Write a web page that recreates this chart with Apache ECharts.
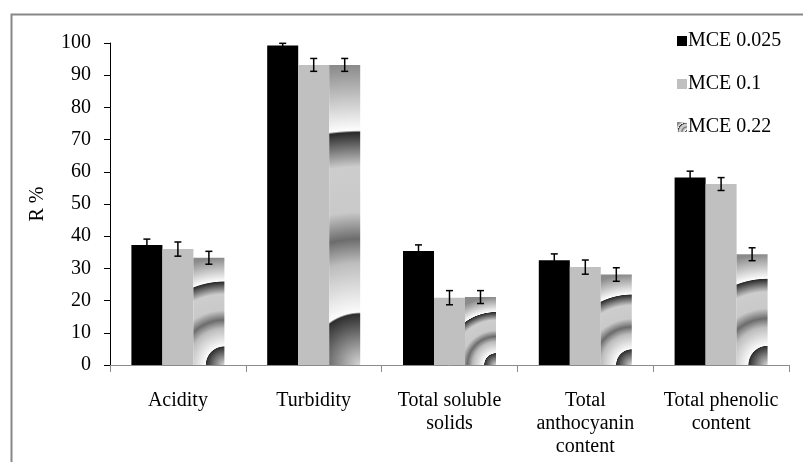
<!DOCTYPE html>
<html>
<head>
<meta charset="utf-8">
<script src="https://cdn.jsdelivr.net/npm/echarts@6/dist/echarts.min.js"></script>
<style>
  html, body { margin: 0; padding: 0; background: #fff; }
  #chart { width: 803px; height: 462px; }
</style>
</head>
<body>
<div id="chart"></div>
<script>
// categories and series values (R %)
const categories = ['Acidity', 'Turbidity', 'Total soluble\nsolids', 'Total\nanthocyanin\ncontent', 'Total phenolic\ncontent'];
const seriesNames = ['MCE 0.025', 'MCE 0.1', 'MCE 0.22'];
const mce025 = [37.3, 99.2, 35.4, 32.5, 58.2];
const mce01 = [36.0, 93.2, 20.9, 30.4, 56.2];
const mce022 = [33.3, 93.2, 21.1, 28.1, 34.4];
// error bar half-widths
const err025 = [1.8, 0.7, 1.9, 2.0, 2.0];
const err01 = [2.2, 2.0, 2.2, 2.2, 2.0];
const err022 = [2.0, 2.0, 2.0, 2.1, 2.0];
const yTicks = [0, 10, 20, 30, 40, 50, 60, 70, 80, 90, 100];

const FONT = "'Liberation Serif', 'Times New Roman', serif";
const BAR_W = 31;
const PX_PER_UNIT = 3.22; // approx plot height / 100

// ring texture, offsets are fractions of bar height from the bottom-right corner
const ringStops = [
  { offset: 0, color: '#d6d6d6' },
  { offset: 0.17, color: '#2e2e2e' },
  { offset: 0.176, color: '#fbfbfb' },
  { offset: 0.34, color: '#bdbdbd' },
  { offset: 0.42, color: '#6c6c6c' },
  { offset: 0.51, color: '#c9c9c9' },
  { offset: 0.66, color: '#cdcdcd' },
  { offset: 0.775, color: '#2a2a2a' },
  { offset: 0.782, color: '#fdfdfd' },
  { offset: 1, color: '#8a8a8a' }
];

function ringFill(r) {
  return new echarts.graphic.RadialGradient(1, 1, r, ringStops);
}

function errorSeries(name, vals, errs, k) {
  return {
    name: name + ' err',
    type: 'custom',
    z: 10,
    silent: true,
    data: vals.map((v, i) => [i, v, errs[i]]),
    encode: { x: 0, y: 1 },
    renderItem: function (params, api) {
      const idx = api.value(0);
      const v = api.value(1);
      const e = api.value(2);
      const hi = api.coord([idx, v + e]);
      const lo = api.coord([idx, v - e]);
      const x = hi[0] + (k - 1) * BAR_W;
      const cap = 3.5;
      const style = { stroke: '#000', lineWidth: 1.5 };
      return {
        type: 'group',
        children: [
          { type: 'line', shape: { x1: x, y1: hi[1], x2: x, y2: lo[1] }, style: style },
          { type: 'line', shape: { x1: x - cap, y1: hi[1], x2: x + cap, y2: hi[1] }, style: style },
          { type: 'line', shape: { x1: x - cap, y1: lo[1], x2: x + cap, y2: lo[1] }, style: style }
        ]
      };
    }
  };
}

const chart = echarts.init(document.getElementById('chart'));

const option = {
  animation: false,
  backgroundColor: '#fff',
  graphic: [{
    type: 'rect',
    left: 9, top: 12,
    shape: { width: 900, height: 600 },
    style: { fill: 'none', stroke: '#878787', lineWidth: 2 },
    silent: true
  }],
  grid: { left: 110, right: 14, top: 43, bottom: 97 },
  legend: {
    data: seriesNames,
    orient: 'vertical',
    left: 677,
    top: 31,
    padding: 0,
    itemWidth: 10,
    itemHeight: 10,
    itemGap: 23,
    icon: 'rect',
    textStyle: { fontFamily: FONT, fontSize: 20, color: '#000', padding: [0, 0, 0, -4] }
  },
  xAxis: {
    type: 'category',
    data: categories,
    axisLine: { lineStyle: { color: '#8c8c8c', width: 1 } },
    axisTick: { show: true, length: 7, lineStyle: { color: '#8c8c8c' } },
    axisLabel: { fontFamily: FONT, fontSize: 20, color: '#000', lineHeight: 23, margin: 24, interval: 0 }
  },
  yAxis: {
    type: 'value',
    min: yTicks[0],
    max: yTicks[yTicks.length - 1],
    interval: 10,
    name: 'R %',
    nameLocation: 'middle',
    nameGap: 62,
    nameRotate: 90,
    nameTextStyle: { fontFamily: FONT, fontSize: 20, color: '#000' },
    axisLine: { show: true, lineStyle: { color: '#000', width: 1 } },
    axisTick: { show: true, length: 6, lineStyle: { color: '#000' } },
    axisLabel: { fontFamily: FONT, fontSize: 20, color: '#000', margin: 19 },
    splitLine: { show: false }
  },
  series: [
    {
      name: seriesNames[0], type: 'bar', barWidth: BAR_W, barGap: '0%',
      itemStyle: { color: '#000' },
      data: mce025
    },
    {
      name: seriesNames[1], type: 'bar', barWidth: BAR_W, barGap: '0%',
      itemStyle: { color: '#c0c0c0' },
      data: mce01
    },
    {
      name: seriesNames[2], type: 'bar', barWidth: BAR_W, barGap: '0%',
      itemStyle: { color: ringFill(1.2) },
      data: mce022.map(v => ({
        value: v,
        itemStyle: { color: ringFill(v * PX_PER_UNIT / BAR_W) }
      }))
    },
    errorSeries(seriesNames[0], mce025, err025, 0),
    errorSeries(seriesNames[1], mce01, err01, 1),
    errorSeries(seriesNames[2], mce022, err022, 2)
  ]
};

chart.setOption(option);
</script>
</body>
</html>
